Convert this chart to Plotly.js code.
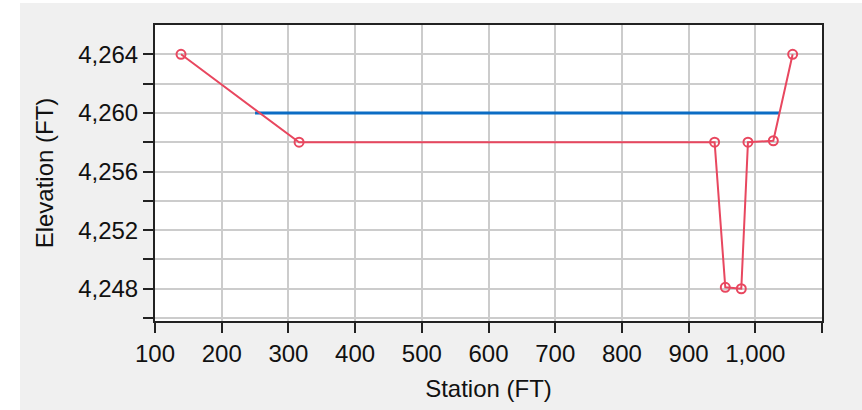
<!DOCTYPE html>
<html>
<head>
<meta charset="utf-8">
<script src="https://cdn.plot.ly/plotly-3.0.1.min.js"></script>
<style>
  html, body { margin: 0; padding: 0; background: #ffffff; width: 862px; height: 410px; overflow: hidden; }
  #chart { position: absolute; left: 20px; top: 3px; width: 842px; height: 407px; }
</style>
</head>
<body>
<div id="chart"></div>
<script>
// Ground profile (station, elevation)
const groundStation = [139, 316, 939, 955, 979, 989, 1027, 1056];
const groundElevation = [4264, 4258, 4258, 4248.1, 4248.0, 4258, 4258.1, 4264];

// Water surface
const waterStation = [250, 1036];
const waterElevation = [4260, 4260];

// Tick labels
const xTickValues = [100, 200, 300, 400, 500, 600, 700, 800, 900, 1000, 1100];
const xTickLabels = ["100", "200", "300", "400", "500", "600", "700", "800", "900", "1,000", ""];
const yTickValues = [4248, 4252, 4256, 4260, 4264];
const yTickLabels = ["4,248", "4,252", "4,256", "4,260", "4,264"];
const yMinorTickValues = [4246, 4250, 4254, 4258, 4262];

const font = "Liberation Sans, Arial, sans-serif";
const textColor = "#111111";

const traces = [
  {
    x: waterStation, y: waterElevation,
    type: "scatter", mode: "lines",
    line: { color: "#0b6cc4", width: 3 },
    hoverinfo: "skip", showlegend: false
  },
  {
    x: groundStation, y: groundElevation,
    type: "scatter", mode: "lines+markers",
    line: { color: "#e8475f", width: 2 },
    marker: { symbol: "circle-open", size: 9, color: "#e8475f", line: { width: 2, color: "#e8475f" } },
    showlegend: false
  }
];

const layout = {
  width: 842, height: 407,
  margin: { l: 135, r: 40, t: 22, b: 89, pad: 0 },
  paper_bgcolor: "#f0f0f0",
  plot_bgcolor: "#ffffff",
  font: { family: font, size: 24, color: textColor },
  xaxis: {
    range: [100, 1100],
    tickmode: "array", tickvals: xTickValues, ticktext: xTickLabels,
    ticks: "outside", ticklen: 10, tickwidth: 2, tickcolor: "#222",
    showline: true, linewidth: 2, linecolor: "#222", mirror: true,
    showgrid: true, gridcolor: "#cccccc", gridwidth: 2,
    zeroline: false,
    tickfont: { family: font, size: 24, color: textColor },
    title: { text: "Station (FT)", font: { family: font, size: 24, color: textColor }, standoff: 14 }
  },
  yaxis: {
    range: [4245.8, 4266],
    tickmode: "array", tickvals: yTickValues, ticktext: yTickLabels,
    ticks: "outside", ticklen: 10, tickwidth: 2, tickcolor: "#222",
    minor: { tickmode: "array", tickvals: yMinorTickValues, ticks: "outside", ticklen: 10, tickwidth: 2, tickcolor: "#222", showgrid: true, gridcolor: "#cccccc", gridwidth: 2 },
    showline: true, linewidth: 2, linecolor: "#222", mirror: true,
    showgrid: true, gridcolor: "#cccccc", gridwidth: 2,
    zeroline: false,
    tickfont: { family: font, size: 24, color: textColor },
    title: { text: "Elevation (FT)", font: { family: font, size: 24, color: textColor }, standoff: 18 }
  }
};

Plotly.newPlot("chart", traces, layout, { displayModeBar: false, staticPlot: true });
</script>
</body>
</html>
